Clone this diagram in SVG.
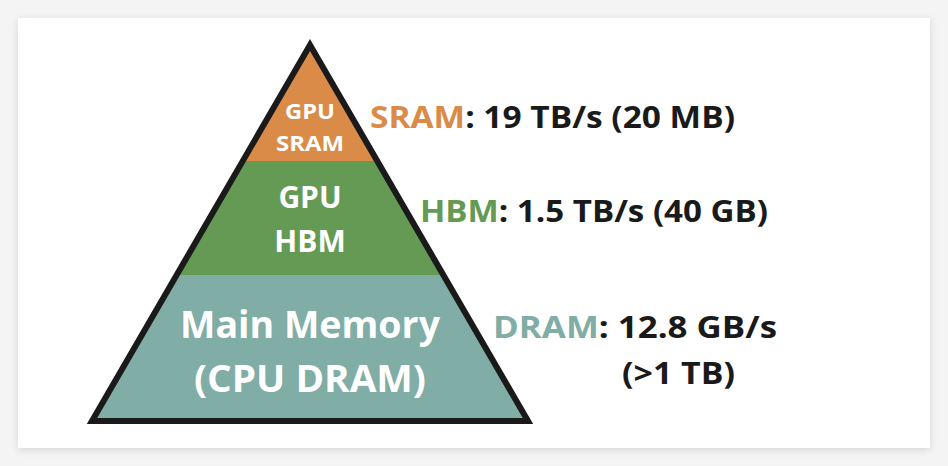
<svg xmlns="http://www.w3.org/2000/svg" width="948" height="466" viewBox="0 0 948 466">
<defs>
<filter id="sh" x="-5%" y="-5%" width="110%" height="110%"><feGaussianBlur stdDeviation="4"/></filter>
<clipPath id="tri"><polygon points="310,45 92,421 528,421"/></clipPath>
<style>
text{font-family:"Open Sans","Liberation Sans",sans-serif;font-weight:bold}
.w{fill:#fff;text-anchor:middle}
.k{fill:#1a1a1a;font-size:30px}
</style>
</defs>
<rect width="948" height="466" fill="#f4f4f4"/>
<rect x="18" y="20" width="912" height="430" fill="#000" opacity="0.12" filter="url(#sh)"/>
<rect x="18" y="18" width="912" height="430" fill="#fff"/>
<g id="pyramid" clip-path="url(#tri)">
<rect x="80" y="40" width="460" height="121" fill="#d98b47"/>
<rect x="80" y="161" width="460" height="114" fill="#659a55"/>
<rect x="80" y="275" width="460" height="150" fill="#80ada6"/>
</g>
<polygon points="310,45 92,421 528,421" fill="none" stroke="#1a1a1a" stroke-width="6" stroke-linejoin="miter"/>
<g id="sram"><text class="w" x="310" y="119" font-size="21" textLength="50" lengthAdjust="spacingAndGlyphs">GPU</text><text class="w" x="310" y="151" font-size="21" textLength="68" lengthAdjust="spacingAndGlyphs">SRAM</text></g>
<g id="hbm"><text class="w" x="310" y="208" font-size="30">GPU</text><text class="w" x="310" y="252" font-size="30">HBM</text></g>
<g id="dram"><text class="w" x="310" y="338" font-size="37" textLength="260" lengthAdjust="spacingAndGlyphs">Main Memory</text><text class="w" x="310" y="392" font-size="37" textLength="232" lengthAdjust="spacingAndGlyphs">(CPU DRAM)</text></g>
<g id="labels">
<text x="370" y="128" class="k" textLength="365" lengthAdjust="spacingAndGlyphs"><tspan fill="#d98b47">SRAM</tspan>: 19 TB/s (20 MB)</text>
<text x="420" y="222" class="k" textLength="348" lengthAdjust="spacingAndGlyphs"><tspan fill="#659a55">HBM</tspan>: 1.5 TB/s (40 GB)</text>
<text x="493" y="338" class="k" textLength="284" lengthAdjust="spacingAndGlyphs"><tspan fill="#80ada6">DRAM</tspan>: 12.8 GB/s</text>
<text x="622" y="384" class="k" textLength="113" lengthAdjust="spacingAndGlyphs">(&gt;1 TB)</text>
</g>
</svg>
